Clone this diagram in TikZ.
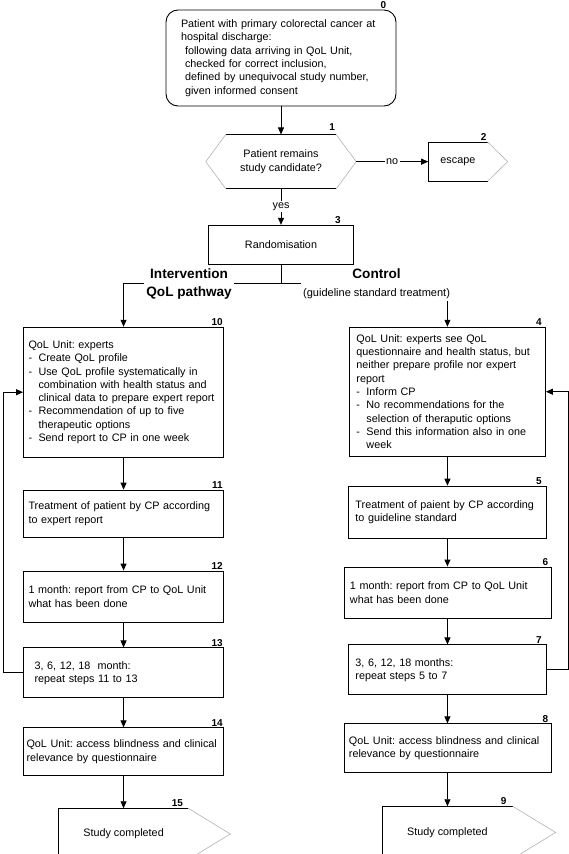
\documentclass[tikz,border=0pt]{standalone}
\usepackage{fontspec}
\setmainfont{Liberation Sans}
\usetikzlibrary{positioning}
\usetikzlibrary{arrows.meta}
\newcommand{\boxfont}{\fontsize{10.8}{13.3}\selectfont\frenchspacing
  \hyphenpenalty=10000\exhyphenpenalty=10000}
\newcommand{\numfont}{\bfseries\fontsize{10}{12}\selectfont}
\newcommand{\armfont}{\bfseries\fontsize{13.6}{18}\selectfont}
\newcommand{\itemdash}{\makebox[10pt][l]{-}}
\newcommand{\itemgap}{\hspace*{10pt}}
\tikzset{
  stepbox/.style  = {shape=rectangle, draw, align=left, font=\boxfont,
                     text width=190pt, inner xsep=5pt, line width=0.9pt},
  startbox/.style = {stepbox, rounded corners=12pt, text width=200pt,
                     inner xsep=15pt, minimum height=96pt},
  flatbox/.style  = {shape=rectangle, align=center, font=\boxfont, inner sep=0pt},
  plainbox/.style = {flatbox, draw, line width=0.9pt},
  numlbl/.style   = {anchor=south east, font=\numfont, inner sep=1pt},
  armlbl/.style   = {align=center, fill=white, inner sep=2pt},
  lbl/.style      = {fill=white, font=\boxfont, inner sep=1.5pt},
  arr/.style      = {-{Triangle[length=7pt,width=6pt]}, line width=0.9pt},
  edgeline/.style = {line width=0.9pt},
  slant/.style    = {draw=gray!60, line width=0.6pt}
}

\begin{document}
\begin{tikzpicture}[x=1pt, y=-1pt]
  \useasboundingbox (0,0) rectangle (568,854);
  % entry and randomisation
  \node [startbox] (b0) at (281,58) {Patient with primary colorectal cancer at\\
    hospital discharge:\\
    \hspace*{4pt}following data arriving in QoL Unit,\\
    \hspace*{4pt}checked for correct inclusion,\\
    \hspace*{4pt}defined by unequivocal study number,\\
    \hspace*{4pt}given informed consent};
  \node [flatbox, minimum width=110pt, minimum height=54pt] (hex) [below=28pt of b0]
    {Patient remains\\study candidate?};
  \coordinate (hexL) at ([xshift=-20pt]hex.west);
  \coordinate (hexR) at ([xshift=20pt]hex.east);
  \node [flatbox, minimum width=59pt, minimum height=39pt] (esc) [right=72pt of hexR] {escape};
  \node [plainbox, minimum width=145pt, minimum height=39pt] (b3) [below=36pt of hex] {Randomisation};
  \coordinate [below=19pt of b3] (split);

  % intervention arm
  \node [stepbox, minimum height=130pt] (b10) [below left=43pt and 57pt of split]
    {QoL Unit: experts\\
     \itemdash Create QoL profile\\
     \itemdash Use QoL profile systematically in\\
     \itemgap combination with health status and\\
     \itemgap clinical data to prepare expert report\\
     \itemdash Recommendation of up to five\\
     \itemgap therapeutic options\\
     \itemdash Send report to CP in one week};
  \node [stepbox, minimum height=47pt] (b11) [below=32pt of b10]
    {Treatment of patient by CP according\\to expert report};
  \node [stepbox, minimum height=51pt] (b12) [below=33pt of b11]
    {1 month: report from CP to QoL Unit\\what has been done};
  \node [stepbox, minimum height=50pt, text width=178pt, inner xsep=11pt] (b13) [below=25pt of b12]
    {3, 6, 12, 18~ month:\\repeat steps 11 to 13};
  \node [stepbox, minimum height=48pt, text width=194pt, inner xsep=3pt] (b14) [below=29pt of b13]
    {QoL Unit: access blindness and clinical\\relevance by questionnaire};
  \node [flatbox, minimum width=129pt, minimum height=51pt] (b15) [below=32pt of b14] {Study completed};

  % control arm
  \node [stepbox, minimum height=129pt, text width=182pt, inner xsep=7pt] (b4) [below right=43pt and 68pt of split]
    {QoL Unit: experts see QoL\\
     questionnaire and health status, but\\
     neither prepare profile nor expert\\
     report\\
     \itemdash Inform CP\\
     \itemdash No recommendations for the\\
     \itemgap selection of theraputic options\\
     \itemdash Send this information also in one\\
     \itemgap week};
  \node [stepbox, minimum height=52pt, text width=184pt, inner xsep=7pt] (b5) [below=29pt of b4]
    {Treatment of paient by CP according\\to guideline standard};
  \node [stepbox, minimum height=51pt, text width=195pt, inner xsep=6pt] (b6) [below=28pt of b5]
    {1 month: report from CP to QoL Unit\\what has been done};
  \node [stepbox, minimum height=50pt, text width=184pt, inner xsep=7pt] (b7) [below=26pt of b6]
    {3, 6, 12, 18 months:\\repeat steps 5 to 7};
  \node [stepbox, minimum height=49pt, text width=197pt, inner xsep=5pt] (b8) [below=28pt of b7]
    {QoL Unit: access blindness and clinical\\relevance by questionnaire};
  \node [flatbox, minimum width=130pt, minimum height=52pt] (b9) [below=33pt of b8] {Study completed};

  % outlines of the pointed shapes
  \draw [edgeline] (hex.north west) -- (hex.north east);
  \draw [edgeline] (hex.south west) -- (hex.south east);
  \draw [slant] (hex.north west) -- (hexL) -- (hex.south west);
  \draw [slant] (hex.north east) -- (hexR) -- (hex.south east);
  \draw [edgeline] (esc.north east) -- (esc.north west) -- (esc.south west) -- (esc.south east);
  \draw [slant] (esc.north east) -- ([xshift=20pt]esc.east) -- (esc.south east);
  \draw [edgeline] (b15.north east) -- (b15.north west) -- (b15.south west) -- (b15.south east);
  \draw [slant] (b15.north east) -- ([xshift=42pt]b15.east) -- (b15.south east);
  \draw [edgeline] (b9.north east) -- (b9.north west) -- (b9.south west) -- (b9.south east);
  \draw [slant] (b9.north east) -- ([xshift=43pt]b9.east) -- (b9.south east);

  % step numbers
  \node [numlbl, xshift=-9pt] at (b0.north east) {0};
  \node [numlbl, yshift=3pt] at (hex.north east) {1};
  \node [numlbl] at (esc.north east) {2};
  \node [numlbl, xshift=-12pt] at (b3.north east) {3};
  \node [numlbl, xshift=-3pt] at (b4.north east) {4};
  \node [numlbl, xshift=-4pt] at (b5.north east) {5};
  \node [numlbl, xshift=-2pt] at (b6.north east) {6};
  \node [numlbl, xshift=-4pt] at (b7.north east) {7};
  \node [numlbl, xshift=-2pt] at (b8.north east) {8};
  \node [numlbl, xshift=-5pt] at (b9.north east) {9};
  \node [numlbl] at (b10.north east) {10};
  \node [numlbl] at (b11.north east) {11};
  \node [numlbl] at (b12.north east) {12};
  \node [numlbl] at (b13.north east) {13};
  \node [numlbl] at (b14.north east) {14};
  \node [numlbl, xshift=-4pt] at (b15.north east) {15};

  % connectors
  \draw [arr] (b0) -- (hex);
  \draw [arr] (hexR) -- node [lbl] {no} (esc.west);
  \draw [arr] (hex) -- node [lbl] {yes} (b3);
  \draw [arr] (b3) -- (split) -| (b10);
  \draw [arr] (split) -| (b4);
  \path [arr] (b10) edge (b11);
  \path [arr] (b11) edge (b12);
  \path [arr] (b12) edge (b13);
  \path [arr] (b13) edge (b14);
  \path [arr] (b14) edge (b15);
  \path [arr] (b4) edge (b5);
  \path [arr] (b5) edge (b6);
  \path [arr] (b6) edge (b7);
  \path [arr] (b7) edge (b8);
  \path [arr] (b8) edge (b9);
  \draw [arr] (b13.west) -- ++(-20pt,0) |- (b10.west);
  \draw [arr] (b7.east) -- ++(22pt,0) |- (b4.east);

  % arm headings
  \node [armlbl, font=\armfont] (intlbl) [left=47pt of split] {Intervention\\QoL pathway};
  \node [armlbl, font=\armfont] (ctllbl) [right=20pt of split]
    {Control\\{\normalfont\fontsize{11}{18}\selectfont(guideline standard treatment)}};
\end{tikzpicture}
\end{document}
